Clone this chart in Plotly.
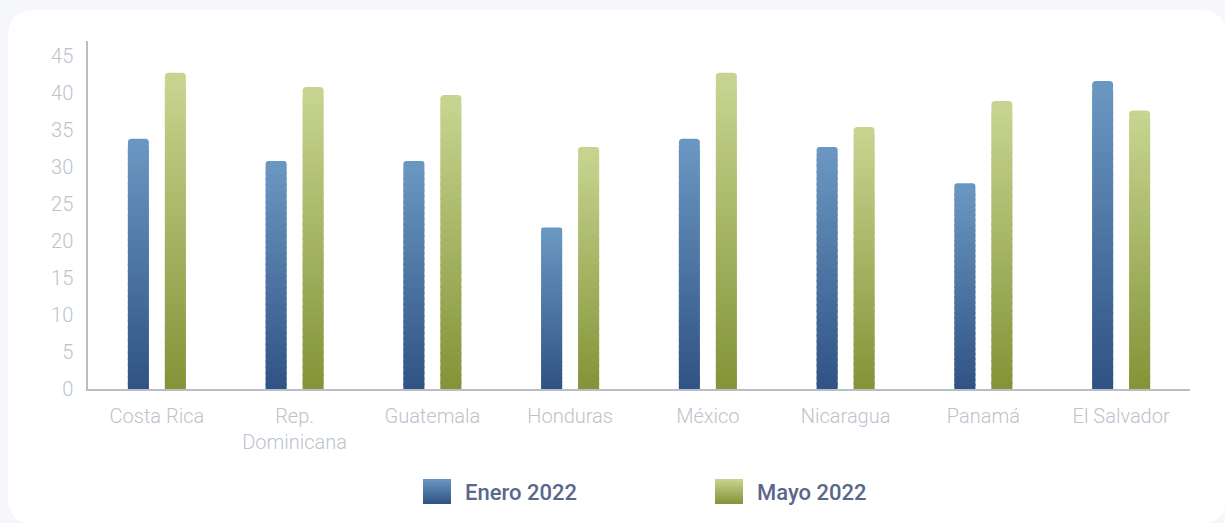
import plotly.graph_objects as go

# ---- data ----
categories = ["Costa Rica", "Rep.<br>Dominicana", "Guatemala", "Honduras",
              "México", "Nicaragua", "Panamá", "El Salvador"]
enero_2022 = [33.8, 30.8, 30.8, 21.8, 33.8, 32.7, 27.8, 41.6]
mayo_2022 = [42.7, 40.8, 39.7, 32.7, 42.7, 35.4, 38.9, 37.6]
series_names = ["Enero 2022", "Mayo 2022"]
y_tick_values = [0, 5, 10, 15, 20, 25, 30, 35, 40, 45]

# ---- styling ----
W, H = 1225, 523
ML, MR, MT, MB = 88, 35, 41, 134
PW, PH = W - ML - MR, H - MT - MB
BLUE_TOP, BLUE_BOT = "#6b98c2", "#2f5283"
GREEN_TOP, GREEN_BOT = "#c8d591", "#839336"
BG = "#f5f7fb"
N_SEG = 40
Y_MAX = 47.0
EPS = 0.25  # small overlap (data units) to hide seams between gradient slices


def hex2rgb(h):
    h = h.lstrip("#")
    return tuple(int(h[i:i + 2], 16) for i in (0, 2, 4))


def mix(bot, top, t):
    a, b = hex2rgb(bot), hex2rgb(top)
    return "rgb({},{},{})".format(*[round(a[k] + (b[k] - a[k]) * t) for k in range(3)])


def px_x(px):
    return (px - ML) / PW


def px_y(py):
    return (H - MB - py) / PH


fig = go.Figure()

for name, vals, top, bot, grp in [
    (series_names[0], enero_2022, BLUE_TOP, BLUE_BOT, "a"),
    (series_names[1], mayo_2022, GREEN_TOP, GREEN_BOT, "b"),
]:
    for i in range(N_SEG):
        t = (i + 0.5) / N_SEG
        ext = EPS if i > 0 else 0.0
        fig.add_trace(go.Bar(
            x=categories,
            y=[v / N_SEG + ext for v in vals],
            base=[v * i / N_SEG - ext for v in vals],
            offsetgroup=grp,
            name=name,
            showlegend=False,
            hoverinfo="skip",
            marker=dict(color=mix(bot, top, t), line=dict(width=0),
                        cornerradius=5 if i == N_SEG - 1 else 0),
        ))

shapes = []
# white rounded card
cx0, cx1, cy0, cy1, r = 8, 1226, 10, 524, 27
X = px_x
Y = px_y
path = (f"M {X(cx0 + r)},{Y(cy0)} L {X(cx1 - r)},{Y(cy0)} "
        f"Q {X(cx1)},{Y(cy0)} {X(cx1)},{Y(cy0 + r)} "
        f"L {X(cx1)},{Y(cy1 - r)} Q {X(cx1)},{Y(cy1)} {X(cx1 - r)},{Y(cy1)} "
        f"L {X(cx0 + r)},{Y(cy1)} Q {X(cx0)},{Y(cy1)} {X(cx0)},{Y(cy1 - r)} "
        f"L {X(cx0)},{Y(cy0 + r)} Q {X(cx0)},{Y(cy0)} {X(cx0 + r)},{Y(cy0)} Z")
shapes.append(dict(type="path", path=path, xref="paper", yref="paper",
                   fillcolor="#ffffff", line=dict(width=0), layer="below"))

# legend swatches (gradient stripes)
annotations = []
for (sx, tx, name, top, bot) in [(423, 463, series_names[0], BLUE_TOP, BLUE_BOT),
                                  (715, 755, series_names[1], GREEN_TOP, GREEN_BOT)]:
    y0, y1 = 479, 504
    n = 12
    for k in range(n):
        a = y0 + (y1 - y0) * k / n
        b = min(y1, y0 + (y1 - y0) * (k + 1) / n + 1.0)
        t = 1 - (k + 0.5) / n
        shapes.append(dict(type="rect", xref="paper", yref="paper",
                           x0=X(sx), x1=X(sx + 28), y0=Y(b), y1=Y(a),
                           fillcolor=mix(bot, top, t), line=dict(width=0)))
    annotations.append(dict(text=name, xref="paper", yref="paper",
                            x=X(tx), y=Y(492), xanchor="left", yanchor="middle",
                            showarrow=False,
                            font=dict(family="Roboto", size=22, color="#58678a", weight=500)))

fig.update_layout(
    width=W, height=H, autosize=False,
    margin=dict(l=ML, r=MR, t=MT, b=MB, pad=0),
    paper_bgcolor=BG,
    plot_bgcolor="rgba(0,0,0,0)",
    barmode="group",
    bargap=0.463,
    bargroupgap=0.43,
    showlegend=False,
    shapes=shapes,
    annotations=annotations,
    font=dict(family="Roboto", color="#bcc3cc"),
    xaxis=dict(showline=True, linecolor="#b7bec8", linewidth=1.5,
               ticks="", showgrid=False, zeroline=False,
               tickfont=dict(family="Roboto", size=20, color="#bcc3cc", weight=300),
               ticklabelstandoff=8),
    yaxis=dict(range=[0, Y_MAX], tickvals=y_tick_values,
               showline=True, linecolor="#b7bec8", linewidth=1.5,
               ticks="", showgrid=False, zeroline=False,
               tickfont=dict(family="Roboto", size=20, color="#bcc3cc", weight=300),
               ticklabelstandoff=9),
)

fig.write_html(
    "out.html",
    config={"displayModeBar": False},
    post_script=f"document.body.style.margin='0';document.body.style.background='{BG}';",
)
